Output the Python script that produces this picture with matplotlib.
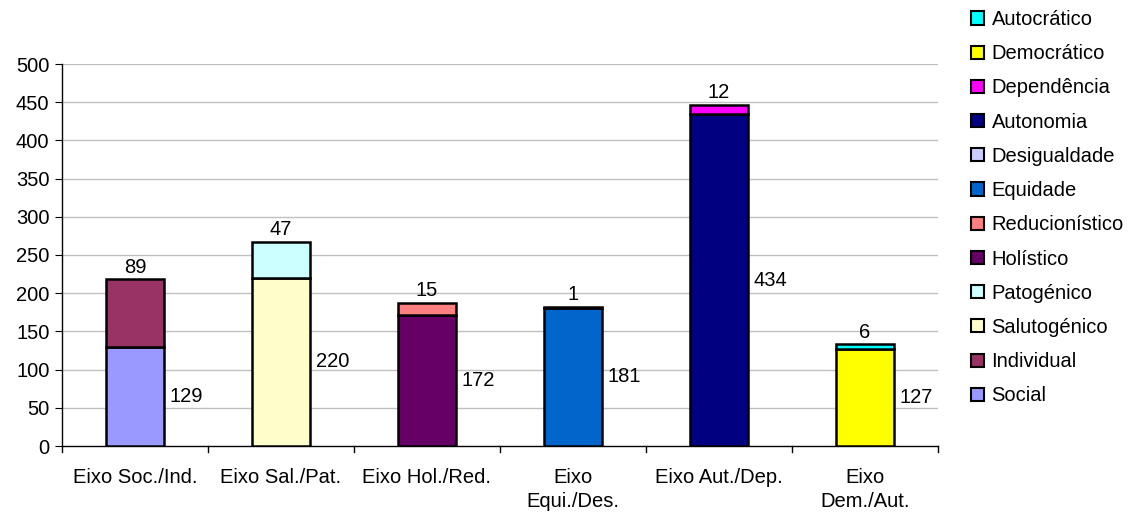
import matplotlib
matplotlib.use("Agg")
import matplotlib.pyplot as plt
from matplotlib.patches import Patch
import numpy as np

plt.rcParams['font.family'] = ['Liberation Sans', 'DejaVu Sans']

categories = ["Eixo Soc./Ind.", "Eixo Sal./Pat.", "Eixo Hol./Red.",
              "Eixo\nEqui./Des.", "Eixo Aut./Dep.", "Eixo\nDem./Aut."]
series_names = ["Social", "Individual", "Salutogénico", "Patogénico",
                "Holístico", "Reducionístico", "Equidade", "Desigualdade",
                "Autonomia", "Dependência", "Democrático", "Autocrático"]
series_values = [129, 89, 220, 47, 172, 15, 181, 1, 434, 12, 127, 6]
series_category = [0, 0, 1, 1, 2, 2, 3, 3, 4, 4, 5, 5]
series_colors = ["#9999FF", "#993366", "#FFFFCC", "#CCFFFF", "#660066", "#FF8080",
                 "#0066CC", "#CCCCFF", "#000080", "#FF00FF", "#FFFF00", "#00FFFF"]
y_ticks = [0, 50, 100, 150, 200, 250, 300, 350, 400, 450, 500]

FS = 14.5

fig = plt.figure(figsize=(11.36, 5.12), dpi=100)
ax = fig.add_axes([62/1136, 66/512, (938-62)/1136, (446-64)/512])

x = np.arange(len(categories))
bottoms = np.zeros(len(categories))
seen = set()
for name, val, cat, col in zip(series_names, series_values, series_category, series_colors):
    ax.bar(x[cat], val, width=0.4, bottom=bottoms[cat], color=col,
           edgecolor="black", linewidth=1.8, zorder=3)
    if cat not in seen:
        ax.annotate(str(val), (x[cat] + 0.2, bottoms[cat] + val / 2), xytext=(4, 0),
                    textcoords="offset points", ha="left", va="center", fontsize=FS)
        seen.add(cat)
    else:
        ax.annotate(str(val), (x[cat], bottoms[cat] + val), xytext=(0, 2),
                    textcoords="offset points", ha="center", va="bottom", fontsize=FS)
    bottoms[cat] += val

ax.set_xlim(-0.5, len(categories) - 0.5)
ax.set_ylim(0, 500)
ax.set_yticks(y_ticks)
ax.tick_params(axis="y", labelsize=FS, length=5, direction="out", pad=4)
ax.set_xticks(x)
ax.set_xticklabels(categories, fontsize=FS, linespacing=1.3)
ax.tick_params(axis="x", length=0, pad=16)
for b in np.arange(len(categories) + 1) - 0.5:
    ax.plot([b, b], [0, -0.015], transform=ax.get_xaxis_transform(),
            color="black", linewidth=1, clip_on=False)
for yv in y_ticks[1:]:
    ax.axhline(yv, color="#C0C0C0", linewidth=1, zorder=1)
for s in ["top", "right"]:
    ax.spines[s].set_visible(False)
ax.spines["left"].set_linewidth(1)
ax.spines["bottom"].set_linewidth(1)

handles = [Patch(facecolor=c, edgecolor="black", linewidth=1.5, label=n)
           for n, c in zip(series_names, series_colors)][::-1]
fig.legend(handles=handles, loc="upper left", bbox_to_anchor=(961/1136, 1.0),
           frameon=False, fontsize=FS, handlelength=0.62, handleheight=0.62,
           handletextpad=0.4, labelspacing=0.755, borderaxespad=0, borderpad=0.5)

fig.savefig("out.png", dpi=100)
